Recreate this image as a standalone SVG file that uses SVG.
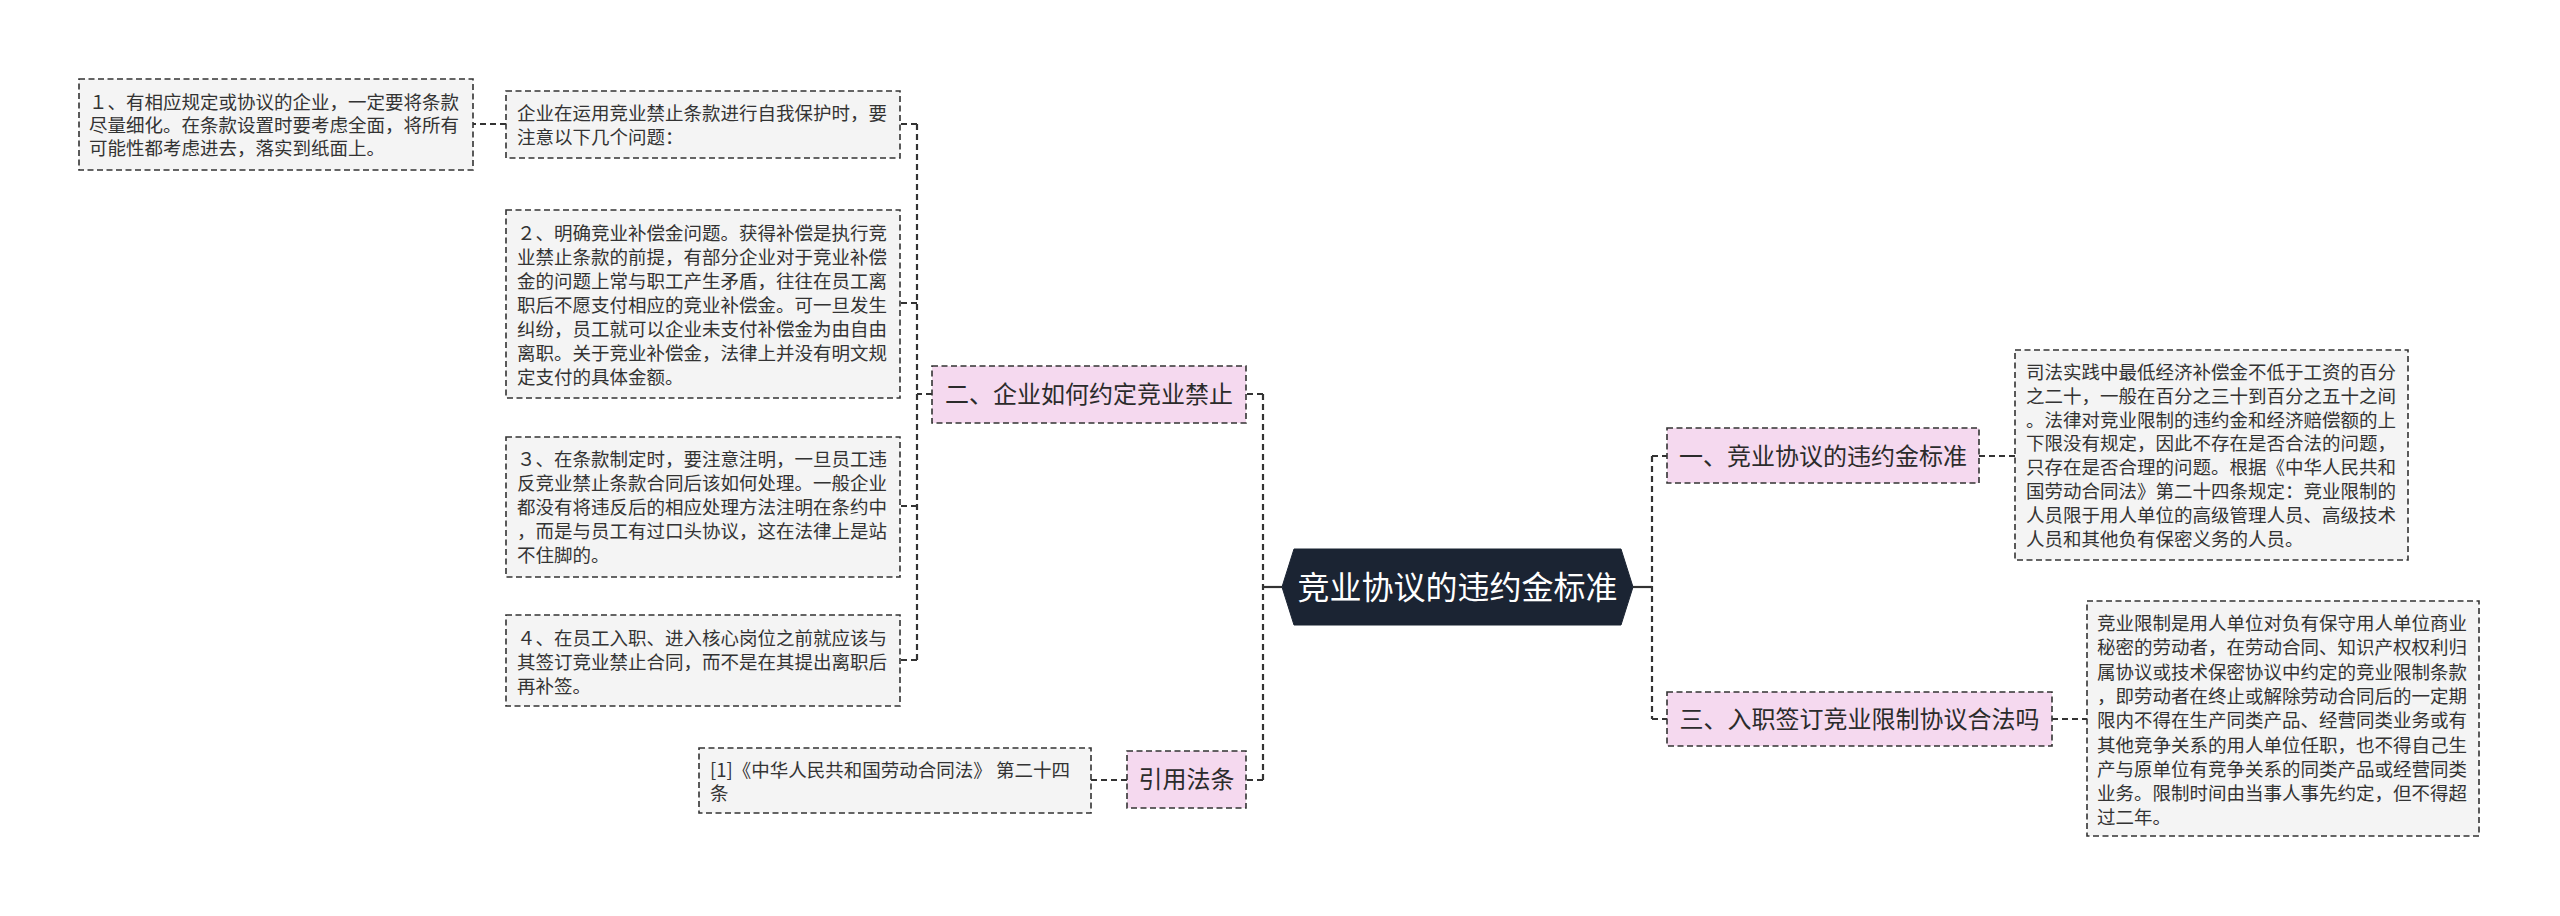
<svg xmlns="http://www.w3.org/2000/svg" width="2560" height="916" viewBox="0 0 2560 916">
<style>
.bg{fill:#ffffff}
.leaf{fill:#f4f4f4;stroke:#333333;stroke-width:1.6;stroke-dasharray:6 3.5}
.sub{fill:#f5d9ef;stroke:#333333;stroke-width:1.6;stroke-dasharray:6 3.5}
.root{fill:#1b2433;stroke:#1b2433;stroke-width:1}
.lt{font-family:"Noto Sans CJK SC","Noto Sans",sans-serif;font-size:18.5px;fill:#333333}
.st{font-family:"Noto Sans CJK SC","Noto Sans",sans-serif;font-size:24px;fill:#2b2b2b;text-anchor:middle}
.rt{font-family:"Noto Sans CJK SC","Noto Sans",sans-serif;font-size:32px;fill:#ffffff;text-anchor:middle}
.c{fill:none;stroke:#333333;stroke-width:2.2;stroke-dasharray:6 4}
.cs{fill:none;stroke:#333333;stroke-width:2.2}
</style>
<rect class="bg" x="0" y="0" width="2560" height="916"/>
<g id="connectors">
<path class="cs" d="M1282 587 H1263"/>
<path class="c" d="M1263 394 V780"/>
<path class="c" d="M1263 394 H1246"/>
<path class="c" d="M1263 780 H1246"/>
<path class="c" d="M932 394 H917"/>
<path class="c" d="M917 124 V660"/>
<path class="c" d="M917 124 H900"/>
<path class="c" d="M917 303 H900"/>
<path class="c" d="M917 506 H900"/>
<path class="c" d="M917 660 H900"/>
<path class="c" d="M506 124 H473"/>
<path class="c" d="M1127 780 H1091"/>
<path class="cs" d="M1633 587 H1652"/>
<path class="c" d="M1652 456 V719"/>
<path class="c" d="M1652 456 H1667"/>
<path class="c" d="M1652 719 H1667"/>
<path class="c" d="M1979 456 H2015"/>
<path class="c" d="M2052 719 H2087"/>
</g>
<g id="root">
<polygon class="root" points="1282,587 1294,549 1621,549 1633,587 1621,625 1294,625"/>
<text class="rt" x="1457.5" y="599">竞业协议的违约金标准</text>
</g>
<g id="n-er">
<rect class="sub" x="932" y="366" width="314" height="57"/>
<text class="st" x="1089" y="402.5">二、企业如何约定竞业禁止</text>
</g>
<g id="n-ref">
<rect class="sub" x="1127" y="751" width="119" height="57"/>
<text class="st" x="1186.5" y="788">引用法条</text>
</g>
<g id="n-yi">
<rect class="sub" x="1667" y="428" width="312" height="55"/>
<text class="st" x="1823" y="464.5">一、竞业协议的违约金标准</text>
</g>
<g id="n-san">
<rect class="sub" x="1667" y="692" width="385" height="54"/>
<text class="st" x="1859.5" y="727.5">三、入职签订竞业限制协议合法吗</text>
</g>
<g id="n-intro">
<rect class="leaf" x="506" y="91" width="394" height="67"/>
<text class="lt" y="120"><tspan x="517">企业在运用竞业禁止条款进行自我保护时，要</tspan><tspan x="517" dy="24">注意以下几个问题：</tspan></text>
</g>
<g id="n-1">
<rect class="leaf" x="79" y="79" width="394" height="91"/>
<text class="lt" y="109"><tspan x="89">１、有相应规定或协议的企业，一定要将条款</tspan><tspan x="89" dy="23">尽量细化。在条款设置时要考虑全面，将所有</tspan><tspan x="89" dy="23">可能性都考虑进去，落实到纸面上。</tspan></text>
</g>
<g id="n-2">
<rect class="leaf" x="506" y="210" width="394" height="188"/>
<text class="lt" y="240"><tspan x="517">２、明确竞业补偿金问题。获得补偿是执行竞</tspan><tspan x="517" dy="24">业禁止条款的前提，有部分企业对于竞业补偿</tspan><tspan x="517" dy="24">金的问题上常与职工产生矛盾，往往在员工离</tspan><tspan x="517" dy="24">职后不愿支付相应的竞业补偿金。可一旦发生</tspan><tspan x="517" dy="24">纠纷，员工就可以企业未支付补偿金为由自由</tspan><tspan x="517" dy="24">离职。关于竞业补偿金，法律上并没有明文规</tspan><tspan x="517" dy="24">定支付的具体金额。</tspan></text>
</g>
<g id="n-3">
<rect class="leaf" x="506" y="437" width="394" height="140"/>
<text class="lt" y="466"><tspan x="517">３、在条款制定时，要注意注明，一旦员工违</tspan><tspan x="517" dy="24">反竞业禁止条款合同后该如何处理。一般企业</tspan><tspan x="517" dy="24">都没有将违反后的相应处理方法注明在条约中</tspan><tspan x="517" dy="24">，而是与员工有过口头协议，这在法律上是站</tspan><tspan x="517" dy="24">不住脚的。</tspan></text>
</g>
<g id="n-4">
<rect class="leaf" x="506" y="615" width="394" height="91"/>
<text class="lt" y="645"><tspan x="517">４、在员工入职、进入核心岗位之前就应该与</tspan><tspan x="517" dy="24">其签订竞业禁止合同，而不是在其提出离职后</tspan><tspan x="517" dy="24">再补签。</tspan></text>
</g>
<g id="n-law">
<rect class="leaf" x="699" y="748" width="392" height="65"/>
<text class="lt" y="777"><tspan x="710">[1]《中华人民共和国劳动合同法》 第二十四</tspan><tspan x="710" dy="23">条</tspan></text>
</g>
<g id="n-r1">
<rect class="leaf" x="2015" y="350" width="393" height="210"/>
<text class="lt" y="379"><tspan x="2026">司法实践中最低经济补偿金不低于工资的百分</tspan><tspan x="2026" dy="23.8">之二十，一般在百分之三十到百分之五十之间</tspan><tspan x="2026" dy="23.8">。法律对竞业限制的违约金和经济赔偿额的上</tspan><tspan x="2026" dy="23.8">下限没有规定，因此不存在是否合法的问题，</tspan><tspan x="2026" dy="23.8">只存在是否合理的问题。根据《中华人民共和</tspan><tspan x="2026" dy="23.8">国劳动合同法》第二十四条规定：竞业限制的</tspan><tspan x="2026" dy="23.8">人员限于用人单位的高级管理人员、高级技术</tspan><tspan x="2026" dy="23.8">人员和其他负有保密义务的人员。</tspan></text>
</g>
<g id="n-r2">
<rect class="leaf" x="2087" y="601" width="392" height="235"/>
<text class="lt" y="630"><tspan x="2097">竞业限制是用人单位对负有保守用人单位商业</tspan><tspan x="2097" dy="24.3">秘密的劳动者，在劳动合同、知识产权权利归</tspan><tspan x="2097" dy="24.3">属协议或技术保密协议中约定的竞业限制条款</tspan><tspan x="2097" dy="24.3">，即劳动者在终止或解除劳动合同后的一定期</tspan><tspan x="2097" dy="24.3">限内不得在生产同类产品、经营同类业务或有</tspan><tspan x="2097" dy="24.3">其他竞争关系的用人单位任职，也不得自己生</tspan><tspan x="2097" dy="24.3">产与原单位有竞争关系的同类产品或经营同类</tspan><tspan x="2097" dy="24.3">业务。限制时间由当事人事先约定，但不得超</tspan><tspan x="2097" dy="24.3">过二年。</tspan></text>
</g>
</svg>
